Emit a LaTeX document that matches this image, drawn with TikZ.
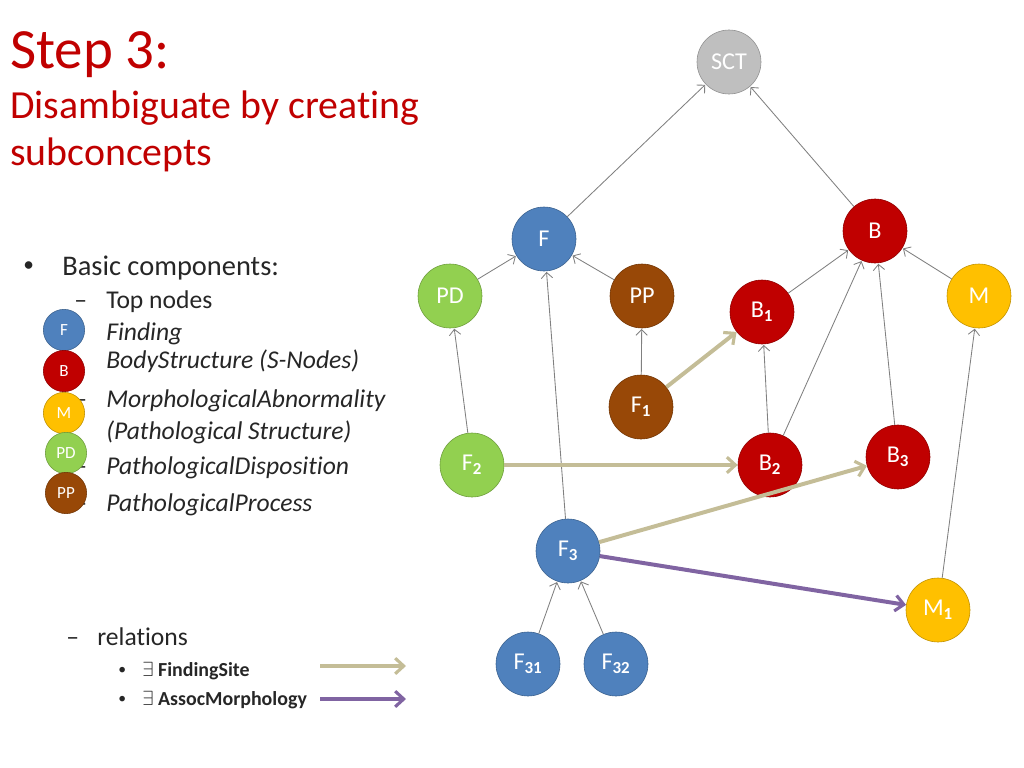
\documentclass[tikz,border=0pt]{standalone}
\usepackage{fontspec}
\setmainfont{Carlito}[Ligatures=NoCommon]
\usepackage{tikz}
\usetikzlibrary{arrows.meta, positioning}

\definecolor{titlered}{HTML}{C00000}
\definecolor{fblue}{HTML}{4F81BD}
\definecolor{bred}{HTML}{C00000}
\definecolor{mgold}{HTML}{FFC000}
\definecolor{pdgreen}{HTML}{92D050}
\definecolor{ppbrown}{HTML}{984807}
\definecolor{sctgray}{HTML}{BFBFBF}
\definecolor{sitetan}{HTML}{C4BD97}
\definecolor{morphpurple}{HTML}{8064A2}
\definecolor{bodytext}{HTML}{262626}

\newcommand{\fs}[1]{\fontsize{#1}{#1}\selectfont}

\begin{document}
\begin{tikzpicture}[x=0.703pt,y=-0.703pt,
    concept/.style={circle,minimum size=45pt,inner sep=0pt,draw=#1!75!black,fill=#1,text=white,font=\fs{17}},
    mini/.style={circle,minimum size=29pt,inner sep=0pt,draw=#1!75!black,fill=#1,text=white,font=\fs{12}},
    txt/.style={inner sep=0pt,anchor=base west,text=bodytext},
    isa/.style={-{Straight Barb[length=4pt,width=8pt]},draw=gray,line width=0.6pt,shorten >=0.5pt},
    site/.style={-{Straight Barb[length=6pt,width=11pt,line width=2.2pt]},draw=sitetan,line width=2.8pt},
    morph/.style={-{Straight Barb[length=6pt,width=11pt,line width=2.2pt]},draw=morphpurple,line width=2.8pt}]
    \useasboundingbox (0,0) rectangle (1024,768);

    % title
    \node[txt,text=titlered,font=\fs{40}] (step) at (10,68) {Step 3:};
    \node[txt,text=titlered,font=\fs{28}] (sub1) at (10,118) {Disambiguate by creating};
    \node[txt,text=titlered,font=\fs{28}] (sub2) at (10,165) {subconcepts};

    % text on the left
    \node[txt,font=\fs{15}] (bul) at (23,271) {•};
    \node[txt,font=\fs{20}] (basic) at (62,275) {Basic components:};
    \foreach \y in {308,407,474,511}
        \node[txt,font=\fs{18}] at (74,\y) {–};
    \node[txt,font=\fs{18}] (top) at (106,308) {Top nodes};
    \node[txt,font=\fs{18}\itshape] (tf) at (106,340) {Finding};
    \node[txt,font=\fs{18}\itshape] (tb) at (106,368) {BodyStructure (S-Nodes)};
    \node[txt,font=\fs{18}\itshape] (tm) at (106,407) {MorphologicalAbnormality};
    \node[txt,font=\fs{18}\itshape] (tm2) at (106,439) {(Pathological Structure)};
    \node[txt,font=\fs{18}\itshape] (tpd) at (106,474) {PathologicalDisposition};
    \node[txt,font=\fs{18}\itshape] (tpp) at (106,511) {PathologicalProcess};

    \node[mini=fblue] (lf) at (64,330) {F};
    \node[mini=bred] (lb) at (64,371) {B};
    \node[mini=mgold] (lm) at (64,413) {M};
    \node[mini=pdgreen] (lpd) at (66,453) {PD};
    \node[mini=ppbrown] (lpp) at (66,493) {PP};

    \node[txt,font=\fs{18}] (rdash) at (66,645) {–};
    \node[txt,font=\fs{18}] (rel) at (97,645) {relations};
    \node[txt,font=\fs{11}] (b1) at (118,674) {•};
    \node[txt,font=\fs{11}] (b2) at (118,703) {•};
    \node[txt,font=\fs{14}\bfseries] (fsite) at (142,676) {$\exists$ FindingSite};
    \node[txt,font=\fs{14}\bfseries] (amorph) at (142,705) {$\exists$ AssocMorphology};
    \coordinate (fs0) at (320,666);
    \coordinate (fs1) at (406,666);
    \coordinate (am0) at (320,699);
    \coordinate (am1) at (406,699);
    \draw[site] (fs0) -- (fs1);
    \draw[morph] (am0) -- (am1);

    % graph
    \node[concept=sctgray] (sct) at (729,62) {SCT};
    \node[concept=fblue] (f) at (544,239) {F};
    \node[concept=bred] (b) at (875,231) {B};
    \node[concept=pdgreen] (pd) at (450,296) {PD};
    \node[concept=ppbrown] (pp) at (642,296) {PP};
    \node[concept=bred] (b1) at (762,312) {B\textsubscript{\bfseries 1}};
    \node[concept=mgold] (m) at (979,296) {M};
    \node[concept=ppbrown] (f1) at (641,407) {F\textsubscript{\bfseries 1}};
    \node[concept=pdgreen] (f2) at (472,465) {F\textsubscript{\bfseries 2}};
    \node[concept=bred] (b2) at (770,465) {B\textsubscript{\bfseries 2}};
    \node[concept=bred] (b3) at (898,457) {B\textsubscript{\bfseries 3}};
    \node[concept=fblue] (f3) at (568,551) {F\textsubscript{\bfseries 3}};
    \node[concept=mgold] (m1) at (938,610) {M\textsubscript{\bfseries 1}};
    \node[concept=fblue] (f31) at (528,664) {F\textsubscript{\bfseries 31}};
    \node[concept=fblue] (f32) at (616,664) {F\textsubscript{\bfseries 32}};

    \foreach \s/\t in {f/sct,b/sct,pd/f,pp/f,f3/f,f2/pd,f1/pp,b1/b,b2/b1,b2/b,b3/b,m/b,m1/m,f31/f3,f32/f3}
        \draw[isa] (\s) -- (\t);

    \draw[site] (f1) -- (b1);
    \draw[site] (f2) -- (b2);
    \draw[site] (f3) -- (b3);
    \draw[morph] (f3) -- (m1);
\end{tikzpicture}
\end{document}
